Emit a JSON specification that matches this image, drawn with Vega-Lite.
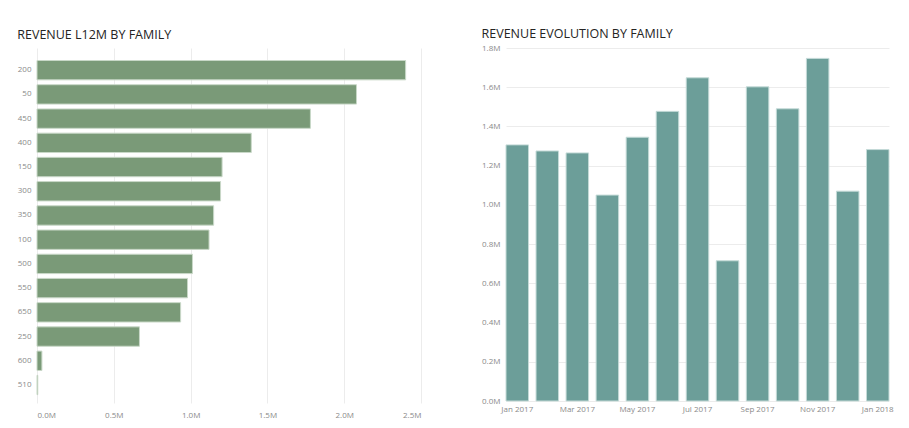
{
  "$schema": "https://vega.github.io/schema/vega-lite/v6.json",
  "background": "white",
  "padding": {"left": 17, "top": 27, "right": 5, "bottom": 5},
  "config": {
    "view": {"stroke": null},
    "font": "Open Sans",
    "title": {"font": "Open Sans", "fontSize": 12.5, "fontWeight": "normal", "color": "#252423", "anchor": "start", "frame": "bounds", "offset": 12},
    "axis": {"labelFont": "Open Sans", "labelFontSize": 8, "labelColor": "#8a8a8a", "domain": false, "ticks": false, "gridColor": "#ececec", "title": null}
  },
  "spacing": 60,
  "datasets": {
    "family": [
      {"family": "200", "revenue": 2400000},
      {"family": "50", "revenue": 2080000},
      {"family": "450", "revenue": 1780000},
      {"family": "400", "revenue": 1395000},
      {"family": "150", "revenue": 1205000},
      {"family": "300", "revenue": 1195000},
      {"family": "350", "revenue": 1150000},
      {"family": "100", "revenue": 1120000},
      {"family": "500", "revenue": 1012000},
      {"family": "550", "revenue": 980000},
      {"family": "650", "revenue": 935000},
      {"family": "250", "revenue": 667000},
      {"family": "600", "revenue": 32000},
      {"family": "510", "revenue": 5000}
    ],
    "monthly": [
      {"month": "Jan 2017", "revenue": 1306000},
      {"month": "Feb 2017", "revenue": 1275000},
      {"month": "Mar 2017", "revenue": 1265000},
      {"month": "Apr 2017", "revenue": 1050000},
      {"month": "May 2017", "revenue": 1345000},
      {"month": "Jun 2017", "revenue": 1477000},
      {"month": "Jul 2017", "revenue": 1648000},
      {"month": "Aug 2017", "revenue": 715000},
      {"month": "Sep 2017", "revenue": 1602000},
      {"month": "Oct 2017", "revenue": 1490000},
      {"month": "Nov 2017", "revenue": 1747000},
      {"month": "Dec 2017", "revenue": 1070000},
      {"month": "Jan 2018", "revenue": 1282000}
    ]
  },
  "hconcat": [
    {
      "title": {"text": "REVENUE L12M BY FAMILY", "offset": 7},
      "width": 384,
      "height": 355,
      "data": {"name": "family"},
      "mark": {"type": "bar", "color": "#7a9a78", "stroke": "#c9d8c8", "strokeWidth": 1},
      "encoding": {
        "y": {"field": "family", "type": "nominal", "sort": null,
              "scale": {"paddingInner": 0.2, "paddingOuter": 0.43, "align": 0.6},
              "axis": {"grid": false, "labelPadding": 6}},
        "x": {"field": "revenue", "type": "quantitative",
              "scale": {"domain": [0, 2500000]},
              "axis": {"values": [0, 500000, 1000000, 1500000, 2000000, 2500000], "labelExpr": "format(datum.value/1000000, '.1f') + 'M'", "labelPadding": 8, "grid": true}}
      }
    },
    {
      "title": {"text": "REVENUE EVOLUTION BY FAMILY", "offset": 4},
      "width": 383,
      "height": 353,
      "data": {"name": "monthly"},
      "mark": {"type": "bar", "color": "#6c9e99", "stroke": "#c5dbd8", "strokeWidth": 1},
      "encoding": {
        "x": {"field": "month", "type": "nominal", "sort": null,
              "scale": {"paddingInner": 0.25, "paddingOuter": 0},
              "axis": {"labelAngle": 0, "values": ["Jan 2017", "Mar 2017", "May 2017", "Jul 2017", "Sep 2017", "Nov 2017", "Jan 2018"], "labelPadding": 4}},
        "y": {"field": "revenue", "type": "quantitative",
              "scale": {"domain": [0, 1800000]},
              "axis": {"values": [0, 200000, 400000, 600000, 800000, 1000000, 1200000, 1400000, 1600000, 1800000], "labelExpr": "format(datum.value/1000000, '.1f') + 'M'", "labelPadding": 6, "grid": true}}
      }
    }
  ]
}
